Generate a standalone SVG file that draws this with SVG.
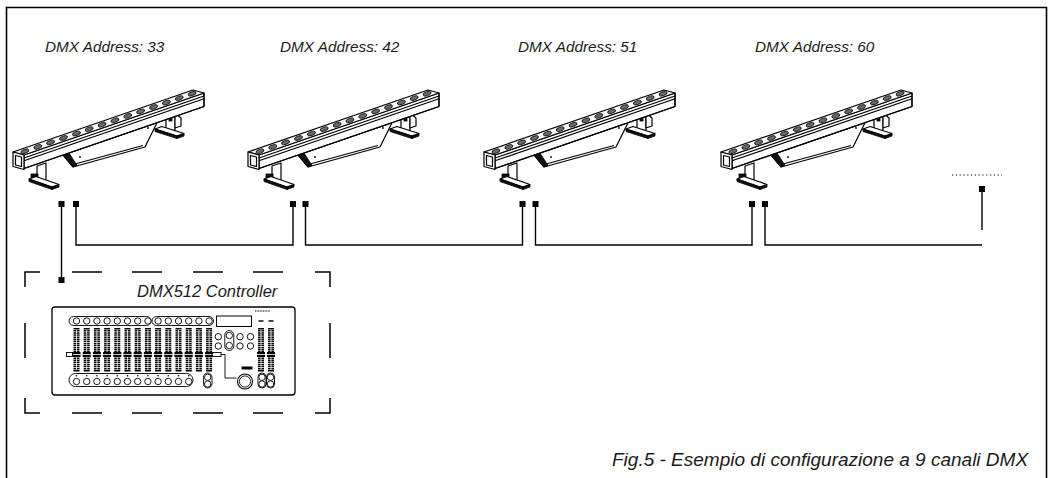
<svg xmlns="http://www.w3.org/2000/svg" width="1052" height="478" viewBox="0 0 1052 478">
<style>
.lbl{font-family:"Liberation Sans",Arial,sans-serif;font-style:italic;fill:#1a1a1a}
.ln{fill:none;stroke:#000;stroke-width:1.2;stroke-linejoin:round}
.wf{fill:#fff;stroke:#000;stroke-width:1.2;stroke-linejoin:round}
.dk{fill:#111;stroke:#000;stroke-width:0.8}
.led{fill:#6a6a6a;stroke:#000;stroke-width:0.7}
.pt{fill:#000}
.btn{fill:#fff;stroke:#000;stroke-width:0.9}
</style>
<defs>
<g id="bar">
  <!-- right foot -->
  <polygon class="wf" points="166,114 175,111 175,130 166,132"/>
  <polygon class="wf" points="175,113 181,118 181,126 175,128"/>
  <rect class="dk" x="169" y="116" width="3" height="5"/>
  <polygon class="wf" points="155,129 177,136 184,133.5 162,126.5"/>
  <polygon class="dk" points="155,129 177,136 177,138.5 155,131.5"/>
  <polygon class="dk" points="177,136 184,133.5 184,136 177,138.5"/>
  <!-- mid plate -->
  <polygon class="wf" points="63,155 157,122.7 145,147 73,167"/>
  <line class="ln" x1="75" y1="164" x2="143" y2="145.5" stroke-width="0.9"/>
  <polygon class="dk" points="63,155 73,167 77,165.5 69,153"/>
  <circle cx="80" cy="157" r="0.9" fill="#000"/>
  <circle cx="148" cy="128" r="0.9" fill="#000"/>
  <!-- left foot -->
  <polygon class="wf" points="37,166 46,163 46,180 37,183"/>
  <rect class="dk" x="31" y="174" width="7" height="5"/>
  <polygon class="wf" points="29,179 52,187 59,184.5 36,176.5"/>
  <polygon class="dk" points="29,179 52,187 52,189.5 29,181.5"/>
  <polygon class="dk" points="52,187 59,184.5 59,187 52,189.5"/>
  <!-- bar body -->
  <polygon class="wf" points="24,155 204,93 204,106.5 24,168.5"/>
  <line class="ln" x1="24" y1="158" x2="204" y2="96" stroke-width="1.1"/>
  <line class="ln" x1="24" y1="160.8" x2="204" y2="98.8" stroke-width="0.8"/>
  <line class="ln" x1="24" y1="168.5" x2="204" y2="106.5" stroke-width="1.9"/>
  <polygon class="wf" points="13,152 193,90 204,93 24,155" stroke-width="1.5"/>
  <polygon class="wf" points="13,152 24,155 24,169.5 13,166.5" stroke-width="1.7"/>
  <polygon class="ln" points="15.5,155.5 21.5,157 21.5,166.5 15.5,165" stroke-width="0.8"/>
  <line class="ln" x1="204" y1="93" x2="204" y2="106.5" stroke-width="2.4"/>
  <g class="led">
    <ellipse rx="4.2" ry="2" transform="translate(24.9,151.3) rotate(-19)"/>
    <ellipse rx="4.2" ry="2" transform="translate(37.8,146.9) rotate(-19)"/>
    <ellipse rx="4.2" ry="2" transform="translate(50.6,142.4) rotate(-19)"/>
    <ellipse rx="4.2" ry="2" transform="translate(63.5,138) rotate(-19)"/>
    <ellipse rx="4.2" ry="2" transform="translate(76.4,133.6) rotate(-19)"/>
    <ellipse rx="4.2" ry="2" transform="translate(89.2,129.1) rotate(-19)"/>
    <ellipse rx="4.2" ry="2" transform="translate(102.1,124.7) rotate(-19)"/>
    <ellipse rx="4.2" ry="2" transform="translate(114.9,120.3) rotate(-19)"/>
    <ellipse rx="4.2" ry="2" transform="translate(127.8,115.9) rotate(-19)"/>
    <ellipse rx="4.2" ry="2" transform="translate(140.6,111.4) rotate(-19)"/>
    <ellipse rx="4.2" ry="2" transform="translate(153.5,107) rotate(-19)"/>
    <ellipse rx="4.2" ry="2" transform="translate(166.4,102.6) rotate(-19)"/>
    <ellipse rx="4.2" ry="2" transform="translate(179.2,98.1) rotate(-19)"/>
    <ellipse rx="4.2" ry="2" transform="translate(192.1,93.7) rotate(-19)"/>
  </g>
</g>
<g id="fdr">
  <line x1="0" y1="328" x2="0" y2="372" stroke="#000" stroke-width="6" stroke-dasharray="1.5 0.6"/>
  <line x1="0" y1="330" x2="0" y2="370" stroke="#fff" stroke-width="0.8"/>
  <rect x="-4" y="352" width="8" height="5" fill="#000"/>
  <line x1="-4" y1="354.5" x2="4" y2="354.5" stroke="#fff" stroke-width="0.8"/>
</g>
<g id="bc"><circle class="btn" cx="0" cy="0" r="3.2"/></g>
</defs>

<path d="M6.5,478 V7.5 H1046.5 V478" fill="none" stroke="#000" stroke-width="1.6"/>

<g id="fixture-1">
  <text class="lbl" x="45" y="52" font-size="15.3">DMX Address: 33</text>
  <use href="#bar"/>
</g>
<g id="fixture-2">
  <text class="lbl" x="280" y="52" font-size="15.3">DMX Address: 42</text>
  <use href="#bar" x="235"/>
</g>
<g id="fixture-3">
  <text class="lbl" x="518" y="52" font-size="15.3">DMX Address: 51</text>
  <use href="#bar" x="471"/>
</g>
<g id="fixture-4">
  <text class="lbl" x="755" y="52" font-size="15.3">DMX Address: 60</text>
  <use href="#bar" x="708"/>
</g>

<g id="controller">
  <path d="M25,287 V272 H40 M72,272 H102 M132,272 H162 M193,272 H223 M253,272 H283 M315,272 H330 V287 M25,398 V413 H40 M72,413 H102 M132,413 H162 M193,413 H223 M253,413 H283 M315,413 H330 V398 M25,323 V358 M330,323 V358" fill="none" stroke="#000" stroke-width="1.5"/>
  <text class="lbl" x="137" y="297" font-size="16.5">DMX512 Controller</text>
  <rect x="52" y="307" width="243" height="88" rx="3" fill="#fff" stroke="#000" stroke-width="1.3"/>
  <rect x="69" y="316.5" width="82" height="9" rx="4.5" fill="none" stroke="#000" stroke-width="0.9"/>
  <rect x="152" y="316.5" width="61.5" height="9" rx="4.5" fill="none" stroke="#000" stroke-width="0.9"/>
  <g>
    <use href="#bc" x="76.5" y="321"/><use href="#bc" x="86.7" y="321"/><use href="#bc" x="96.9" y="321"/><use href="#bc" x="107.1" y="321"/>
    <use href="#bc" x="117.3" y="321"/><use href="#bc" x="127.5" y="321"/><use href="#bc" x="137.7" y="321"/><use href="#bc" x="147.9" y="321"/>
    <use href="#bc" x="158.1" y="321"/><use href="#bc" x="168.3" y="321"/><use href="#bc" x="178.5" y="321"/><use href="#bc" x="188.7" y="321"/>
    <use href="#bc" x="198.9" y="321"/><use href="#bc" x="209.1" y="321"/>
  </g>
  <rect x="216.5" y="316" width="35" height="10.5" fill="none" stroke="#000" stroke-width="1"/>
  <line x1="255" y1="311" x2="270" y2="311" stroke="#555" stroke-width="1.5" stroke-dasharray="1 0.6"/>
  <g>
    <use href="#fdr" x="76.5"/><use href="#fdr" x="86.7"/><use href="#fdr" x="96.9"/><use href="#fdr" x="107.1"/>
    <use href="#fdr" x="117.3"/><use href="#fdr" x="127.5"/><use href="#fdr" x="137.7"/><use href="#fdr" x="147.9"/>
    <use href="#fdr" x="158.1"/><use href="#fdr" x="168.3"/><use href="#fdr" x="178.5"/><use href="#fdr" x="188.7"/>
    <use href="#fdr" x="198.9"/><use href="#fdr" x="209.1"/>
  </g>
  <rect x="66.5" y="352.5" width="6" height="4" fill="none" stroke="#000" stroke-width="0.9"/>
  <rect x="69" y="373.5" width="124" height="13" rx="6.5" fill="none" stroke="#000" stroke-width="0.9"/>
  <g>
    <use href="#bc" x="76.5" y="381.5"/><use href="#bc" x="86.7" y="381.5"/><use href="#bc" x="96.9" y="381.5"/><use href="#bc" x="107.1" y="381.5"/>
    <use href="#bc" x="117.3" y="381.5"/><use href="#bc" x="127.5" y="381.5"/><use href="#bc" x="137.7" y="381.5"/><use href="#bc" x="147.9" y="381.5"/>
    <use href="#bc" x="158.1" y="381.5"/><use href="#bc" x="168.3" y="381.5"/><use href="#bc" x="178.5" y="381.5"/><use href="#bc" x="188.7" y="381.5"/>
  </g>
  <g fill="#000">
    <circle cx="76.5" cy="375.8" r="0.8"/><circle cx="86.7" cy="375.8" r="0.8"/><circle cx="96.9" cy="375.8" r="0.8"/><circle cx="107.1" cy="375.8" r="0.8"/>
    <circle cx="117.3" cy="375.8" r="0.8"/><circle cx="127.5" cy="375.8" r="0.8"/><circle cx="137.7" cy="375.8" r="0.8"/><circle cx="147.9" cy="375.8" r="0.8"/>
    <circle cx="158.1" cy="375.8" r="0.8"/><circle cx="168.3" cy="375.8" r="0.8"/><circle cx="178.5" cy="375.8" r="0.8"/><circle cx="188.7" cy="375.8" r="0.8"/>
  </g>
  <rect x="224.8" y="330.5" width="9" height="20" rx="4.5" fill="none" stroke="#000" stroke-width="0.9"/>
  <use href="#bc" x="218.3" y="336.7"/><use href="#bc" x="218.3" y="346"/>
  <use href="#bc" x="229.3" y="335.5"/><use href="#bc" x="229.3" y="345.5"/>
  <use href="#bc" x="240" y="336.7"/><use href="#bc" x="240" y="346"/>
  <use href="#bc" x="250.5" y="336.7"/><use href="#bc" x="250.5" y="346"/>
  <rect x="212" y="352.5" width="9" height="4" fill="none" stroke="#000" stroke-width="0.9"/>
  <polyline points="221,354.5 225,354.5 225,378 236.5,378" fill="none" stroke="#000" stroke-width="0.9"/>
  <rect x="241.5" y="366.5" width="11" height="3" fill="#000"/>
  <rect x="203.5" y="373" width="8.5" height="15" rx="4.2" fill="none" stroke="#000" stroke-width="0.9"/>
  <use href="#bc" x="207.7" y="377.3"/><use href="#bc" x="207.7" y="384"/>
  <circle cx="245" cy="381.5" r="7.5" fill="#fff" stroke="#000" stroke-width="1.1"/>
  <circle cx="245" cy="381.5" r="5.6" fill="none" stroke="#000" stroke-width="0.9"/>
  <rect x="258" y="373" width="8" height="15" rx="4" fill="none" stroke="#000" stroke-width="0.9"/>
  <rect x="266.5" y="373" width="8" height="15" rx="4" fill="none" stroke="#000" stroke-width="0.9"/>
  <use href="#bc" x="262" y="377.3"/><use href="#bc" x="262" y="384"/>
  <use href="#bc" x="270.5" y="377.3"/><use href="#bc" x="270.5" y="384"/>
  <use href="#fdr" x="261" y="0"/><use href="#fdr" x="271" y="0"/>
  <rect x="258.5" y="320" width="5" height="2" fill="#444"/>
  <rect x="268.5" y="320" width="5" height="2" fill="#444"/>
</g>

<g id="connectors" fill="none" stroke="#000" stroke-width="1.4">
  <path d="M61.5,204 V280"/>
  <path d="M76,204 V245 H293 V204"/>
  <path d="M305.5,204 V245 H522.5 V204"/>
  <path d="M535.5,204 V245 H752 V204"/>
  <path d="M765,204 V245 H982"/>
  <path d="M982,189 V230"/>
  <path d="M952,175 H1002" stroke-dasharray="1.2 2.6" stroke-width="1"/>
  <g class="pt" stroke="none">
    <rect x="58.5" y="201" width="6" height="6"/>
    <rect x="73" y="201" width="6" height="6"/>
    <rect x="290" y="201" width="6" height="6"/>
    <rect x="302.5" y="201" width="6" height="6"/>
    <rect x="519.5" y="201" width="6" height="6"/>
    <rect x="532.5" y="201" width="6" height="6"/>
    <rect x="749" y="201" width="6" height="6"/>
    <rect x="762" y="201" width="6" height="6"/>
    <rect x="979" y="186" width="6" height="6"/>
    <rect x="58.5" y="277" width="6" height="6"/>
  </g>
</g>

<text class="lbl" x="612" y="466" font-size="19">Fig.5 - Esempio di configurazione a 9 canali DMX</text>
</svg>
